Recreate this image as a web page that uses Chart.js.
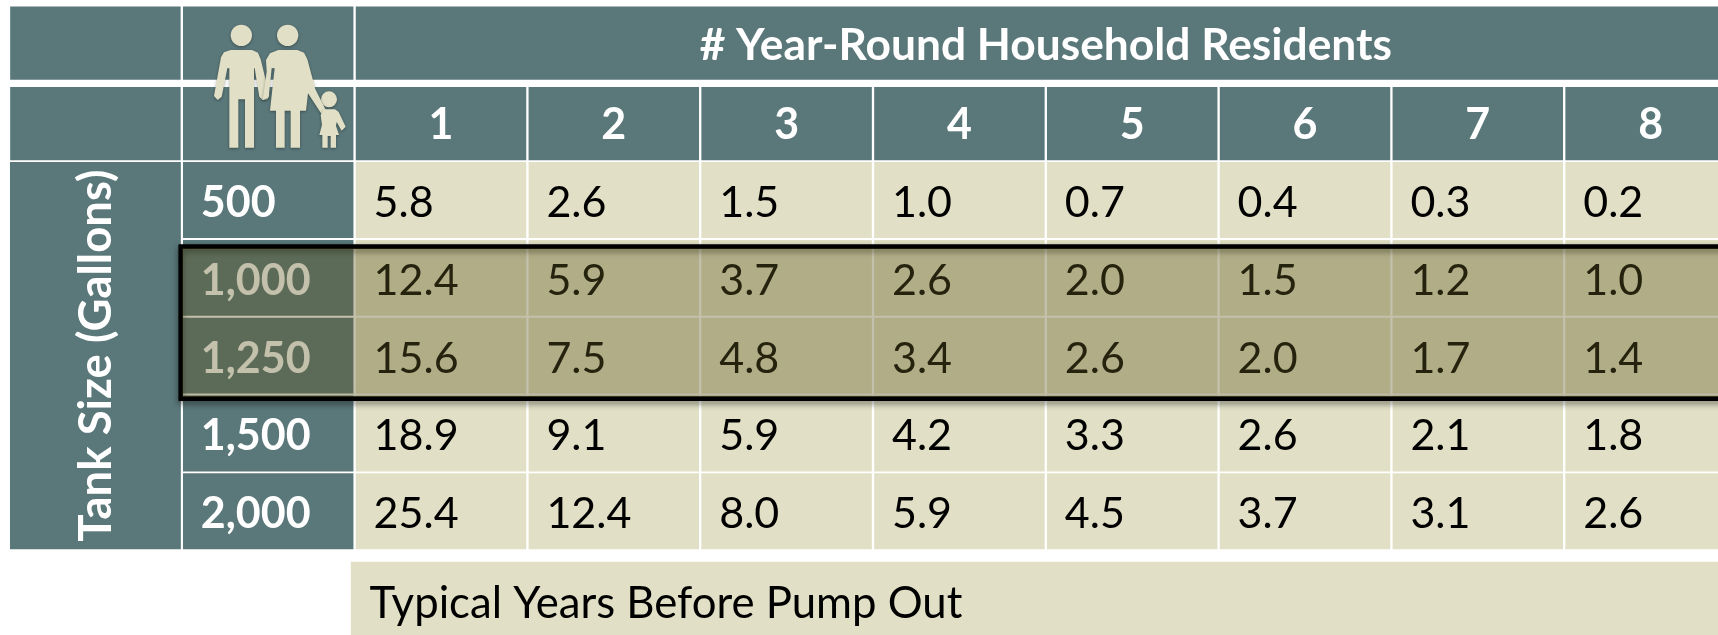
<!DOCTYPE html>
<html>
<head>
<meta charset="utf-8">
<script src="https://cdn.jsdelivr.net/npm/chart.js@4"></script>
<style>
  html, body { margin: 0; padding: 0; background: #fff; overflow: hidden; }
  canvas { display: block; }
</style>
</head>
<body>
<canvas id="septic" width="1718" height="635"></canvas>
<script>
// table content
var residents = [1, 2, 3, 4, 5, 6, 7, 8];
var tankSizes = ['500', '1,000', '1,250', '1,500', '2,000'];

var years500 = ['5.8', '2.6', '1.5', '1.0', '0.7', '0.4', '0.3', '0.2'];
var years1000 = ['12.4', '5.9', '3.7', '2.6', '2.0', '1.5', '1.2', '1.0'];
var years1250 = ['15.6', '7.5', '4.8', '3.4', '2.6', '2.0', '1.7', '1.4'];
var years1500 = ['18.9', '9.1', '5.9', '4.2', '3.3', '2.6', '2.1', '1.8'];
var years2000 = ['25.4', '12.4', '8.0', '5.9', '4.5', '3.7', '3.1', '2.6'];
var yearsByTank = [years500, years1000, years1250, years1500, years2000];

var topTitle = '# Year-Round Household Residents';
var sideTitle = 'Tank Size (Gallons)';
var footerText = 'Typical Years Before Pump Out';

const TEAL = '#5a7779';
const BEIGE = '#e1e0c6';
const ROW_H = 77.8;
const XMAX = 8.39;
const FOOTER_ROW = 7.653;

// rows on the y scale: 0 and 1 are headers, 2-6 tanks
function cell(a, b, row) {
  return { x: [a, b], y: row + 0.5 };
}

var tealCells = [
  cell(-1.5, -0.5, 0), cell(-1.5, -0.5, 1),
  cell(-0.5, 0.5, 0), cell(-0.5, 0.5, 1),
  cell(0.5, 9, 0)
];
residents.forEach(function(n) { tealCells.push(cell(n - 0.5, n + 0.5, 1)); });
tankSizes.forEach(function(t, i) { tealCells.push(cell(-0.5, 0.5, i + 2)); });

var beigeCells = [];
yearsByTank.forEach(function(row, i) {
  row.forEach(function(v, j) {
    beigeCells.push(cell(residents[j] - 0.5, residents[j] + 0.5, i + 2));
  });
});

function cellBorder(ctx) {
  var row = ctx.raw ? ctx.raw.y - 0.5 : 9;
  return {
    left: 1.5,
    right: 1.5,
    top: row === 1 ? 4 : 1.3,
    bottom: row === 0 ? 4 : 1.3
  };
}

// family pictogram, traced on a 3x grid
function drawFamily(ctx) {
  ctx.save();
  ctx.translate(170, 0);
  ctx.scale(1 / 3, 1 / 3);
  ctx.fillStyle = BEIGE;
  ctx.strokeStyle = BEIGE;
  ctx.shadowColor = 'rgba(0,0,0,0.35)';
  ctx.shadowBlur = 3;
  ctx.shadowOffsetY = 1;

  function poly(pts) {
    ctx.beginPath();
    pts.forEach(function(p, i) {
      if (i === 0) ctx.moveTo(p[0], p[1]); else ctx.lineTo(p[0], p[1]);
    });
    ctx.closePath();
    ctx.fill();
  }
  function head(x, y, r) {
    ctx.beginPath();
    ctx.arc(x, y, r, 0, Math.PI * 2);
    ctx.fill();
  }

  head(214, 106, 32);
  head(353, 106, 32);
  head(477, 298, 24);
  // man
  poly([[182, 150], [246, 150], [264, 158], [272, 178], [298, 285], [292, 298], [278, 300], [268, 290],
    [254, 205], [252, 205], [252, 443], [225, 443], [225, 298], [205, 298], [205, 443], [178, 443],
    [178, 205], [172, 205], [155, 290], [143, 300], [132, 288], [153, 172], [162, 157]]);
  // woman
  poly([[325, 150], [382, 150], [402, 158], [412, 178], [436, 268], [470, 335], [460, 350], [414, 280],
    [408, 332], [390, 332], [390, 443], [362, 443], [362, 332], [344, 332], [344, 443], [318, 443],
    [318, 332], [300, 332], [314, 205], [305, 205], [296, 292], [278, 300], [290, 215], [288, 180], [300, 160]]);
  // child
  poly([[462, 328], [495, 328], [506, 336], [527, 380], [515, 392], [500, 366], [498, 378], [507, 405],
    [498, 405], [498, 443], [482, 443], [482, 408], [473, 408], [473, 443], [457, 443], [457, 405],
    [448, 405], [456, 375], [452, 345]]);
  ctx.restore();
}

// all the text goes under the highlight so it gets tinted with it
function drawTexts(chart) {
  var ctx = chart.ctx;
  var xs = chart.scales.x;
  var ys = chart.scales.y;
  var pad = 19;

  ctx.save();
  ctx.textBaseline = 'middle';

  ctx.font = 'bold 44.3px Lato';
  ctx.fillStyle = '#fff';
  ctx.textAlign = 'center';
  ctx.fillText(topTitle, xs.getPixelForValue(4.5), ys.getPixelForValue(0.5) + 1);

  ctx.font = 'bold 43px Lato';
  residents.forEach(function(n) {
    ctx.fillText(String(n), xs.getPixelForValue(n), ys.getPixelForValue(1.5) + 3);
  });

  ctx.textAlign = 'left';
  tankSizes.forEach(function(t, i) {
    ctx.fillText(t, xs.getPixelForValue(-0.5) + pad, ys.getPixelForValue(i + 2.5) + 3);
  });

  ctx.save();
  ctx.font = 'bold 45.5px Lato';
  ctx.translate(xs.getPixelForValue(-1), ys.getPixelForValue(4.5));
  ctx.rotate(-Math.PI / 2);
  ctx.textAlign = 'center';
  ctx.fillText(sideTitle, 0, 1);
  ctx.restore();

  ctx.font = '43px Lato';
  ctx.fillStyle = '#000';
  yearsByTank.forEach(function(row, i) {
    row.forEach(function(v, j) {
      ctx.fillText(v, xs.getPixelForValue(residents[j] - 0.5) + pad, ys.getPixelForValue(i + 2.5) + 3);
    });
  });
  ctx.font = '43.7px Lato';
  ctx.fillText(footerText, xs.getPixelForValue(0.5) + 15, ys.getPixelForValue(FOOTER_ROW) + 3);
  ctx.restore();
}

var tablePlugin = {
  id: 'tablePlugin',
  beforeDatasetDraw: function(chart, args) {
    if (chart.data.datasets[args.index].label !== 'highlight') return;
    drawTexts(chart);

    // the shadow the black frame throws downward
    var bar = args.meta.data[0];
    var p = bar.getProps(['x', 'y', 'base', 'height']);
    var ctx = chart.ctx;
    ctx.save();
    ctx.shadowColor = 'rgba(0,0,0,0.6)';
    ctx.shadowBlur = 6;
    ctx.shadowOffsetY = 3;
    ctx.strokeStyle = '#000';
    ctx.lineWidth = 4;
    ctx.strokeRect(p.base + 2, p.y - p.height / 2 + 2, p.x - p.base, p.height - 4);
    ctx.restore();
  },
  afterDatasetsDraw: function(chart) {
    drawFamily(chart.ctx);
  }
};

new Chart('septic', {
  type: 'bar',
  plugins: [tablePlugin],
  data: {
    datasets: [
      {
        label: 'highlight',
        data: [{ x: [-0.518, 9], y: 4.075 }],
        backgroundColor: 'rgba(98,90,34,0.38)',
        borderColor: '#000',
        borderWidth: 4,
        borderSkipped: false,
        barThickness: 156
      },
      {
        label: 'teal',
        data: tealCells,
        backgroundColor: TEAL,
        borderColor: '#fff',
        borderWidth: cellBorder,
        borderSkipped: false,
        barThickness: ROW_H
      },
      {
        label: 'beige',
        data: beigeCells,
        backgroundColor: BEIGE,
        borderColor: '#fff',
        borderWidth: cellBorder,
        borderSkipped: false,
        barThickness: ROW_H
      },
      {
        label: 'side',
        data: [{ x: [-1.5, -0.5], y: 4.5 }],
        backgroundColor: TEAL,
        borderColor: '#fff',
        borderWidth: 1.3,
        borderSkipped: false,
        barThickness: ROW_H * 5
      },
      {
        label: 'footer',
        data: [{ x: [0.48, 9], y: FOOTER_ROW }],
        backgroundColor: BEIGE,
        barThickness: ROW_H
      }
    ]
  },
  options: {
    indexAxis: 'y',
    responsive: false,
    animation: false,
    datasets: { bar: { grouped: false } },
    layout: { padding: { left: 9, top: 5.5, right: 0, bottom: 0 } },
    plugins: {
      legend: { display: false },
      title: { display: false },
      tooltip: { enabled: false }
    },
    scales: {
      x: { type: 'linear', min: -1.5, max: XMAX, display: false },
      y: { type: 'linear', offset: false, reverse: true, min: 0, max: 8.09, display: false }
    }
  }
});
</script>
</body>
</html>
